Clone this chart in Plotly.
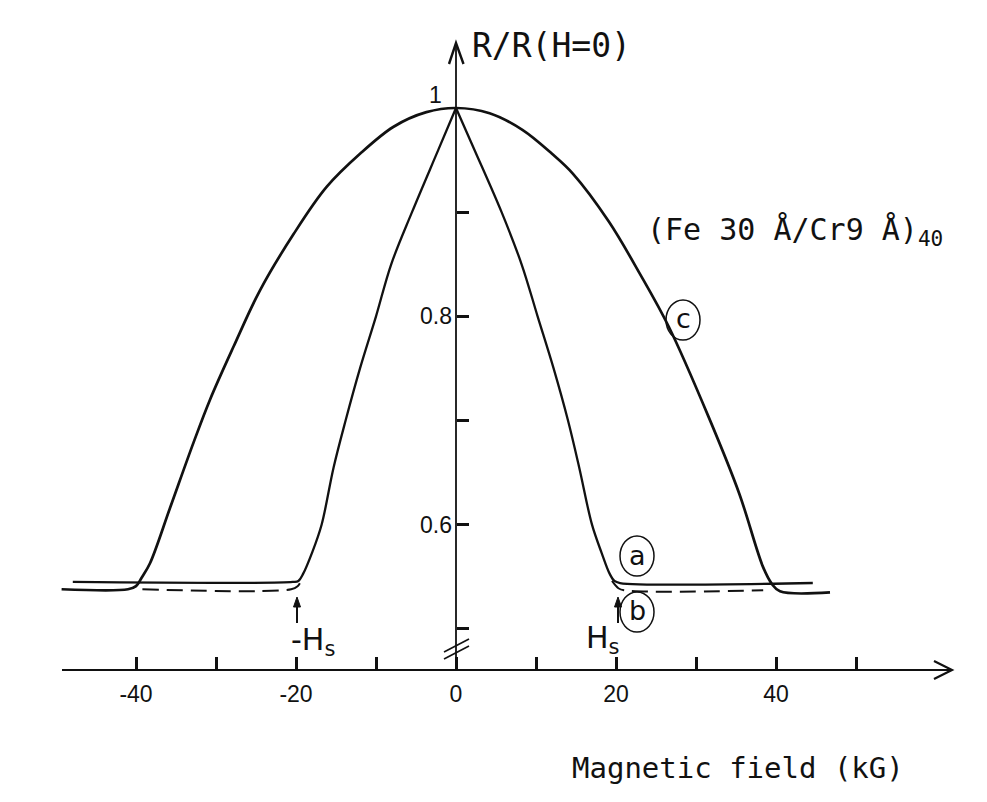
import plotly.graph_objects as go

# ---------------- data ----------------
# curve (a): solid, saturates at +-Hs ~ 20 kG (cusp at H=0)
a_left_x = [-47.9, -20.4, -19.7, -19.1, -18.0, -16.8, -15.3, -13.8, -12.0, -10.0, -8.1, -5.5, -2.2, 0.0]
a_left_y = [0.545, 0.545, 0.546, 0.553, 0.573, 0.600, 0.655, 0.700, 0.750, 0.800, 0.850, 0.900, 0.960, 1.000]
a_right_x = [0.0, 2.3, 5.7, 8.2, 10.2, 12.2, 14.0, 15.4, 17.0, 18.2, 19.2, 19.8, 20.5, 44.6]
a_right_y = [1.000, 0.960, 0.900, 0.850, 0.800, 0.750, 0.700, 0.655, 0.600, 0.573, 0.553, 0.546, 0.544, 0.544]

# curve (b): dashed, follows (a) on the peak, lower plateau
b_left_x = [-39.2, -20.6, -19.8, -19.3]
b_left_y = [0.538, 0.538, 0.541, 0.547]
b_right_x = [19.5, 20.3, 21.0, 38.4]
b_right_y = [0.546, 0.539, 0.537, 0.537]

# curve (c): broad curve, saturates at ~40 kG
c_x = [-49.3, -41.0, -40.0, -39.3, -38.25, -35.75, -32.8, -30.75, -27.8, -24.5, -20.3, -16.2, -12.0,
       -7.8, -3.7, 0.0, 4.2, 8.3, 12.0, 14.6, 19.1, 22.9, 26.6, 31.6, 35.4, 38.4, 39.5, 40.5, 46.75]
c_y = [0.538, 0.538, 0.541, 0.549, 0.563, 0.616, 0.679, 0.720, 0.771, 0.825, 0.879, 0.924, 0.956,
       0.982, 0.996, 1.000, 0.995, 0.979, 0.956, 0.937, 0.891, 0.842, 0.790, 0.703, 0.630, 0.559, 0.543, 0.536, 0.535]

x_major_vals = [-40, -20, 0, 20, 40]
x_major_text = ["-40", "-20", "0", "20", "40"]
x_minor_vals = [-30, -10, 10, 30, 50]
y_major_vals = [0.6, 0.8]
y_major_text = ["0.6", "0.8"]
y_minor_vals = [0.5, 0.7, 0.9]

# ---------------- geometry helpers (page pixel -> data / paper) ----------------
W, H = 987, 802
OFF = 8                       # default body margin of the html page
FW, FH = W - 2 * OFF, H - 2 * OFF
PX_L, PX_R, PX_T, PX_B = 50, 967, 35, 690
X0PX, XS = 456.0, 8.0        # page px of x=0, px per kG
Y1PX, YS = 108.0, 1041.7     # page px of y=1, px per unit


def X(px):
    return (px - X0PX) / XS


def Y(py):
    return 1 - (py - Y1PX) / YS


def PXp(px):
    return (px - PX_L) / (PX_R - PX_L)


def PYp(py):
    return (PX_B - py) / (PX_B - PX_T)


BLACK = "#111111"
TXT_FONT = "DejaVu Sans Mono"
TICK_FONT = "Liberation Sans"

fig = go.Figure()
curve_line = dict(color=BLACK, shape="spline", smoothing=1.0)
fig.add_trace(go.Scatter(x=c_x, y=c_y, mode="lines", line=dict(curve_line, width=2.7),
                         showlegend=False, hoverinfo="skip"))
fig.add_trace(go.Scatter(x=a_left_x, y=a_left_y, mode="lines", line=dict(curve_line, width=2.3),
                         showlegend=False, hoverinfo="skip"))
fig.add_trace(go.Scatter(x=a_right_x, y=a_right_y, mode="lines", line=dict(curve_line, width=2.3),
                         showlegend=False, hoverinfo="skip"))
fig.add_trace(go.Scatter(x=b_left_x + [None] + b_right_x, y=b_left_y + [None] + b_right_y, mode="lines",
                         line=dict(curve_line, width=2.0, dash="16px,8px"),
                         connectgaps=False, showlegend=False, hoverinfo="skip"))

shapes = []
# x axis line + arrow head
shapes.append(dict(type="line", xref="x", yref="y", x0=X(62), x1=X(952), y0=Y(670), y1=Y(670),
                   line=dict(color=BLACK, width=2)))
shapes.append(dict(type="path", xref="x", yref="y",
                   path=f"M {X(934)},{Y(661)} L {X(952)},{Y(670)} L {X(934)},{Y(679)}",
                   line=dict(color=BLACK, width=2.2)))
# y axis line + arrow head
shapes.append(dict(type="line", xref="x", yref="y", x0=0, x1=0, y0=Y(670), y1=Y(44),
                   line=dict(color=BLACK, width=1.8)))
shapes.append(dict(type="path", xref="x", yref="y",
                   path=f"M {X(449)},{Y(64)} L {X(456)},{Y(43)} L {X(463.5)},{Y(64)}",
                   line=dict(color=BLACK, width=2.4)))
# axis break marks
shapes.append(dict(type="line", xref="x", yref="y", x0=X(444), x1=X(469), y0=Y(659), y1=Y(646),
                   line=dict(color=BLACK, width=1.6)))
shapes.append(dict(type="line", xref="x", yref="y", x0=X(444), x1=X(469), y0=Y(652), y1=Y(639),
                   line=dict(color=BLACK, width=1.6)))
# circled labels
for cx, cy in [(683, 320), (637, 556), (637, 612)]:
    shapes.append(dict(type="circle", xref="x", yref="y", x0=X(cx - 17), x1=X(cx + 17),
                       y0=Y(cy + 20), y1=Y(cy - 20), line=dict(color=BLACK, width=1.5)))
# small arrows marking Hs
for ax_px in [297, 618]:
    shapes.append(dict(type="line", xref="x", yref="y", x0=X(ax_px), x1=X(ax_px), y0=Y(623), y1=Y(604),
                       line=dict(color=BLACK, width=2)))
    shapes.append(dict(type="path", xref="x", yref="y",
                       path=f"M {X(ax_px - 3.5)},{Y(607)} L {X(ax_px)},{Y(597)} L {X(ax_px + 3.5)},{Y(607)} Z",
                       fillcolor=BLACK, line=dict(color=BLACK, width=1)))

ann = []
ann.append(dict(text="R/R(H=0)", x=PXp(470), y=PYp(45), xref="paper", yref="paper", xanchor="left",
                yanchor="middle", showarrow=False, font=dict(family=TXT_FONT, size=33, color=BLACK)))
ann.append(dict(text="(Fe 30 Å/Cr9 Å)<sub>40</sub>", x=PXp(645), y=PYp(232), xref="paper", yref="paper",
                xanchor="left", yanchor="middle", showarrow=False,
                font=dict(family=TXT_FONT, size=30, color=BLACK)))
ann.append(dict(text="Magnetic field (kG)", x=PXp(570), y=PYp(768), xref="paper", yref="paper",
                xanchor="left", yanchor="middle", showarrow=False,
                font=dict(family=TXT_FONT, size=29, color=BLACK)))
ann.append(dict(text="1", x=PXp(435), y=PYp(95), xref="paper", yref="paper", xanchor="center",
                yanchor="middle", showarrow=False, font=dict(family=TICK_FONT, size=23, color=BLACK)))
for t, cx, cy in [("c", 683, 318), ("a", 637, 555), ("b", 637, 610)]:
    ann.append(dict(text=t, x=X(cx), y=Y(cy), xanchor="center", yanchor="middle", showarrow=False,
                    font=dict(family="DejaVu Sans", size=27, color=BLACK)))
ann.append(dict(text="-H<sub>s</sub>", x=PXp(289), y=PYp(641), xref="paper", yref="paper", xanchor="left",
                yanchor="middle", showarrow=False, font=dict(family="DejaVu Sans", size=30, color=BLACK)))
ann.append(dict(text="H<sub>s</sub>", x=PXp(584), y=PYp(639), xref="paper", yref="paper", xanchor="left",
                yanchor="middle", showarrow=False, font=dict(family="DejaVu Sans", size=30, color=BLACK)))

fig.update_layout(
    width=FW, height=FH,
    margin=dict(l=PX_L - OFF, r=(W - OFF) - PX_R, t=PX_T - OFF, b=(H - OFF) - PX_B, pad=0),
    paper_bgcolor="white", plot_bgcolor="white",
    shapes=shapes, annotations=ann, showlegend=False,
    xaxis=dict(range=[X(PX_L), X(PX_R)], showgrid=False, zeroline=False, showline=False,
               anchor="free", position=PYp(670),
               tickmode="array", tickvals=x_major_vals, ticktext=x_major_text,
               ticks="inside", ticklen=13, tickwidth=3, tickcolor=BLACK,
               minor=dict(tickmode="array", tickvals=x_minor_vals, ticks="inside", ticklen=13,
                          tickwidth=3, tickcolor=BLACK, showgrid=False),
               ticklabelstandoff=8,
               tickfont=dict(family=TICK_FONT, size=23, color=BLACK)),
    yaxis=dict(range=[Y(PX_B), Y(PX_T)], showgrid=False, zeroline=False, showline=False,
               anchor="free", position=PXp(456),
               tickmode="array", tickvals=y_major_vals, ticktext=y_major_text,
               ticks="inside", ticklen=12, tickwidth=3, tickcolor=BLACK,
               minor=dict(tickmode="array", tickvals=y_minor_vals, ticks="inside", ticklen=12,
                          tickwidth=3, tickcolor=BLACK, showgrid=False),
               ticklabelstandoff=4,
               tickfont=dict(family=TICK_FONT, size=23, color=BLACK)),
)

fig.write_html("out.html")
